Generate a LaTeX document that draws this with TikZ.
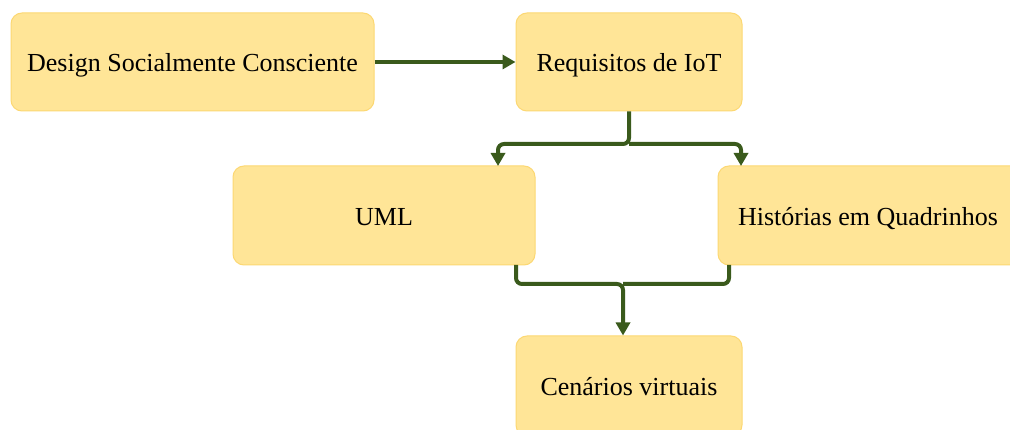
\documentclass[tikz,border=0pt]{standalone}
\usepackage{fontspec}
\setmainfont{Liberation Serif}
\usetikzlibrary{arrows.meta}
\definecolor{boxfill}{HTML}{FFE597}
\definecolor{boxline}{HTML}{FCD873}
\definecolor{arr}{HTML}{3A5A1C}
\begin{document}
\begin{tikzpicture}[x=1pt,y=-1pt,
  box/.style={draw=boxline, line width=1pt, fill=boxfill, rounded corners=11pt, inner sep=0pt, font=\fontsize{26}{29}\selectfont, text=black, text height=20pt, text depth=0.5pt},
  conn/.style={draw=arr, line width=4pt, -{Triangle[length=13pt,width=14pt]}},
  connr/.style={conn, rounded corners=6pt}]
\clip (0,0) rectangle (1010,430);
\fill[white] (0,0) rectangle (1010,430);
\node[box, minimum width=363pt, minimum height=98pt] (dsc) at (192.5,62) {Design Socialmente Consciente};
\node[box, minimum width=226pt, minimum height=98pt] (req) at (629,62) {Requisitos de IoT};
\node[box, minimum width=302pt, minimum height=99pt] (uml) at (384,215.5) {UML};
\node[box, minimum width=312pt, minimum height=99pt, text width=312pt, align=flush left] (hq) at (874,215.5) {\hspace*{20pt}Histórias em Quadrinhos};
\node[box, minimum width=226pt, minimum height=100pt] (cen) at (629,386) {Cenários virtuais};
\draw[conn] (dsc.east) -- (req.west);
\coordinate (split) at (629,144);
\coordinate (merge) at (623,284);
\draw[connr] (req.south) -- (split) -| (498,166);
\draw[connr] (split) -| (741,166);
\draw[connr] (516,265) |- (merge) -- (cen.north -| merge);
\draw[draw=arr, line width=4pt, rounded corners=6pt] (729,265) |- (merge);
\end{tikzpicture}
\end{document}
